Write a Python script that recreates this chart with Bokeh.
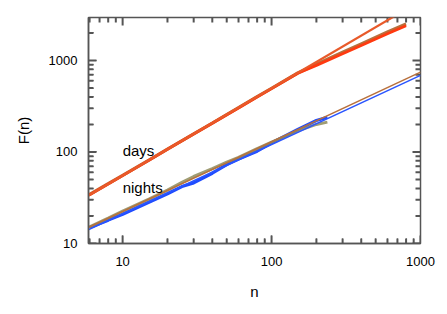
import math
from bokeh.plotting import figure
from bokeh.models import FixedTicker, NumeralTickFormatter, Range1d, ColumnDataSource
from bokeh.embed import file_html
from bokeh.resources import INLINE
from bokeh.core.properties import value

# ---- data ----
n_days = [6, 8, 10, 15, 20, 30, 40, 60, 80, 100, 150, 200, 300, 400, 600, 800]
F_days_red = [34, 44.7, 55.2, 81, 107, 157, 206, 303, 399, 493, 725, 885, 1185, 1460, 1960, 2400]
F_days_brown = [34.5, 45, 55.5, 81.5, 107.5, 158, 207, 305, 402, 497, 730, 910, 1230, 1520, 2050, 2510]

n_nights = [6, 8, 10, 15, 20, 25, 30, 40, 50, 60, 80, 100, 150, 200, 237]
F_nights_blue = [15.0, 18.0, 20.9, 28.2, 35.0, 41.9, 46.0, 58.6, 72.8, 83.6, 102, 126, 176, 221, 240]
F_nights_olive = [15.2, 18.9, 22.6, 30.5, 38.3, 46.5, 54.0, 66.0, 77.5, 87.5, 109, 128, 170, 200, 212]

n_fit = [5, 1000]
F_fit_days = [28.5, 4480]
F_fit_nights_brown = [13.2, 745]
F_fit_nights_blue = [12.5, 687]

label_text = ["days", "nights"]
label_n = [10, 10]
label_F = [104, 41]

x_ticks = [10, 100, 1000]
y_ticks = [10, 100, 1000]
x_minor = [6, 7, 8, 9, 20, 30, 40, 50, 60, 70, 80, 90, 200, 300, 400, 500, 600, 700, 800, 900]
y_minor = [20, 30, 40, 50, 60, 70, 80, 90, 200, 300, 400, 500, 600, 700, 800, 900, 2000]

X0, X1 = 5.9, 1000
Y0, Y1 = 10, 2950
FRAME_W, FRAME_H = 332, 226
MAJOR_LEN, MINOR_LEN = 8, 5

FONT = "Liberation Sans"
AXC = "#555555"
TICKC = "#555555"

p = figure(width=440, height=310, x_axis_type="log", y_axis_type="log",
           x_range=Range1d(X0, X1), y_range=Range1d(Y0, Y1),
           output_backend="svg", toolbar_location=None,
           min_border_left=88, min_border_right=20, min_border_top=17, min_border_bottom=67)
p.grid.visible = False
p.outline_line_color = AXC
p.outline_line_width = 1.5

# inside ticks on all four sides, drawn as short lines (pixel lengths -> log factors)
xdec = math.log10(X1 / X0) / FRAME_W
ydec = math.log10(Y1 / Y0) / FRAME_H
xt_all = x_ticks + x_minor
xt_len = [MAJOR_LEN] * len(x_ticks) + [MINOR_LEN] * len(x_minor)
yt_all = y_ticks + y_minor
yt_len = [MAJOR_LEN] * len(y_ticks) + [MINOR_LEN] * len(y_minor)
bx, by, tx, ty, lx, ly, rx, ry = [], [], [], [], [], [], [], []
for t, L in zip(xt_all, xt_len):
    bx.append([t, t]); by.append([Y0, Y0 * 10 ** (L * ydec)])
    tx.append([t, t]); ty.append([Y1, Y1 / 10 ** (L * ydec)])
for t, L in zip(yt_all, yt_len):
    lx.append([X0, X0 * 10 ** (L * xdec)]); ly.append([t, t])
    rx.append([X1, X1 / 10 ** (L * xdec)]); ry.append([t, t])
p.multi_line(xs=bx + tx + lx + rx, ys=by + ty + ly + ry, line_color=TICKC, line_width=2)

# days
p.line(n_days, F_days_brown, line_color="#b8703c", line_width=3.2)
p.line(n_days, F_days_red, line_color="#ff3a10", line_width=2.8)
p.line(n_fit, F_fit_days, line_color="#e85a2a", line_width=2.2)

# nights
p.line(n_nights, F_nights_blue, line_color="#1f4cff", line_width=3.2)
p.line(n_nights, F_nights_olive, line_color="#8f8c5c", line_width=3.0, line_alpha=0.85)
p.line(n_fit, F_fit_nights_blue, line_color="#2a55ff", line_width=1.5)
p.line(n_fit, F_fit_nights_brown, line_color="#b8703c", line_width=1.5)

p.text(x=label_n, y=label_F, text=label_text, text_font=value(FONT),
       text_font_size="15px", text_baseline="middle", text_align="left", text_color="black")

def style(ax):
    ax.axis_line_color = AXC
    ax.axis_line_width = 1.5
    ax.major_tick_line_color = TICKC
    ax.minor_tick_line_color = TICKC
    ax.major_tick_in = MAJOR_LEN
    ax.major_tick_out = 0
    ax.minor_tick_in = MINOR_LEN
    ax.minor_tick_out = 0
    ax.major_label_text_font = FONT
    ax.major_label_text_font_size = "13px"
    ax.major_label_text_color = "black"
    ax.axis_label_text_font = FONT
    ax.axis_label_text_font_size = "15px"
    ax.axis_label_text_font_style = "normal"
    ax.axis_label_text_color = "black"
    ax.formatter = NumeralTickFormatter(format="0")

xa = p.xaxis[0]
xa.ticker = FixedTicker(ticks=x_ticks, minor_ticks=x_minor)
xa.axis_label = "n"
style(xa)
xa.major_label_standoff = 13
xa.axis_label_standoff = 14

ya = p.yaxis[0]
ya.ticker = FixedTicker(ticks=y_ticks, minor_ticks=y_minor)
ya.axis_label = "F(n)"
style(ya)
ya.major_label_standoff = 11
ya.axis_label_standoff = 14

open("out.html", "w").write(file_html(p, INLINE))
